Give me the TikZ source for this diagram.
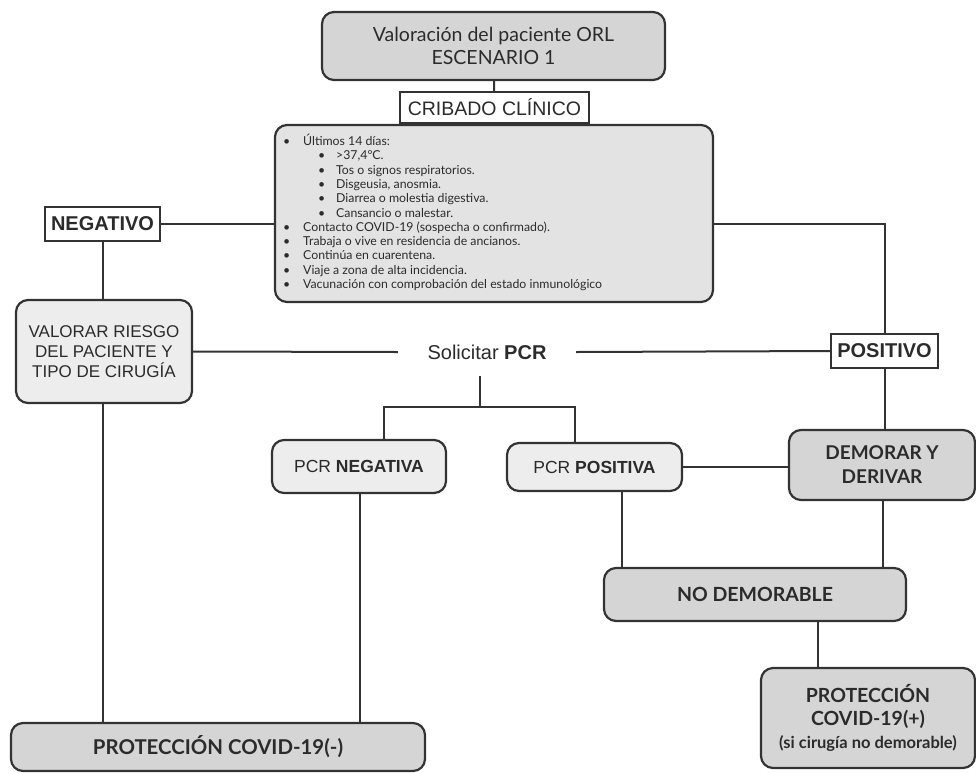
\documentclass[tikz,border=0pt]{standalone}
\usepackage{fontspec}
\setmainfont{Lato}
\newfontfamily\ari{Liberation Sans}
\definecolor{ink}{HTML}{2B2B2B}
\definecolor{edge}{HTML}{333333}
\definecolor{darkfill}{HTML}{D5D5D5}
\definecolor{midfill}{HTML}{E3E3E3}
\definecolor{lightfill}{HTML}{EDEDED}
\begin{document}
\begin{tikzpicture}[x=1pt,y=-1pt,
  box/.style={draw=edge,line width=2.2pt,rounded corners=12pt,align=center,text=ink,inner sep=0pt},
  sqbox/.style={draw=edge,line width=1.4pt,fill=white,align=center,text=ink,inner sep=0pt},
  conn/.style={draw=edge,line width=2pt}]
\useasboundingbox (0,0) rectangle (976,772);
% nodes
\node[box,fill=darkfill,minimum width=343pt,minimum height=68pt,font=\fontsize{19.5}{23}\selectfont] (top) at (493.5,46)
  {Valoración del paciente ORL\\ESCENARIO 1};
\node[sqbox,minimum width=189pt,minimum height=31pt,font=\ari\fontsize{19.5}{21}\selectfont] (crib) at (494.5,107.5)
  {CRIBADO CLÍNICO};
\node[box,fill=midfill,minimum width=438pt,minimum height=177pt] (big) at (494,213.5) {};
\node[anchor=north west,inner sep=0pt,align=left,text=ink,font=\fontsize{12.3}{14.3}\selectfont] (list) at (283,134)
  {\makebox[20pt][l]{\textbullet}Últimos 14 días:\\
   \hspace{35pt}\makebox[18pt][l]{\textbullet}>37,4ºC.\\
   \hspace{35pt}\makebox[18pt][l]{\textbullet}Tos o signos respiratorios.\\
   \hspace{35pt}\makebox[18pt][l]{\textbullet}Disgeusia, anosmia.\\
   \hspace{35pt}\makebox[18pt][l]{\textbullet}Diarrea o molestia digestiva.\\
   \hspace{35pt}\makebox[18pt][l]{\textbullet}Cansancio o malestar.\\
   \makebox[20pt][l]{\textbullet}Contacto COVID-19 (sospecha o confirmado).\\
   \makebox[20pt][l]{\textbullet}Trabaja o vive en residencia de ancianos.\\
   \makebox[20pt][l]{\textbullet}Continúa en cuarentena.\\
   \makebox[20pt][l]{\textbullet}Viaje a zona de alta incidencia.\\
   \makebox[20pt][l]{\textbullet}Vacunación con comprobación del estado inmunológico};
\node[sqbox,minimum width=115pt,minimum height=34pt,font=\ari\bfseries\fontsize{20}{22}\selectfont] (neg) at (102.5,224)
  {NEGATIVO};
\node[sqbox,minimum width=107pt,minimum height=34pt,font=\ari\bfseries\fontsize{20}{22}\selectfont] (pos) at (884.5,351)
  {POSITIVO};
\node[box,fill=lightfill,minimum width=176pt,minimum height=103pt,font=\ari\fontsize{17}{20}\selectfont] (val) at (104,351.5)
  {VALORAR RIESGO\\DEL PACIENTE Y\\TIPO DE CIRUGÍA};
\node[inner sep=0pt,minimum width=178pt,minimum height=48pt,text=ink,font=\ari\fontsize{20}{22}\selectfont] (sol) at (487,352)
  {Solicitar \textbf{PCR}};
\node[box,fill=lightfill,minimum width=174pt,minimum height=53pt,font=\ari\fontsize{17.5}{19}\selectfont] (pneg) at (359,466.5)
  {PCR \textbf{NEGATIVA}};
\node[box,fill=lightfill,minimum width=175pt,minimum height=48pt,font=\ari\fontsize{17.5}{19}\selectfont] (ppos) at (594.5,467)
  {PCR \textbf{POSITIVA}};
\node[box,fill=darkfill,minimum width=186pt,minimum height=70pt,font=\bfseries\fontsize{19}{24}\selectfont] (dem) at (882,465)
  {DEMORAR Y\\DERIVAR};
\node[box,fill=darkfill,minimum width=302pt,minimum height=53pt,font=\bfseries\fontsize{19.5}{22}\selectfont] (nodem) at (755,594.5)
  {NO DEMORABLE};
\node[box,fill=darkfill,minimum width=214pt,minimum height=100pt,font=\bfseries\fontsize{19.5}{23}\selectfont] (pplus) at (868,718)
  {PROTECCIÓN\\COVID-19(+)\\{\fontsize{16.5}{20}\selectfont (si cirugía no demorable)}};
\node[box,fill=darkfill,minimum width=414pt,minimum height=48pt,font=\bfseries\fontsize{20.4}{22}\selectfont] (pminus) at (218,747)
  {PROTECCIÓN COVID-19(-)};
% coordinates
\coordinate (j) at (480,407);
\coordinate (bl) at (384,407);
\coordinate (br) at (575,407);
\coordinate (xpp) at (622,0);
\coordinate (xdm) at (883,0);
\coordinate (xnd) at (818,0);
\coordinate (xvl) at (103,0);
\coordinate (xpn) at (360,0);
% connectors
\draw[conn] (top) -- (crib);
\draw[conn] (neg.east) -- (neg.east -| big.west);
\draw[conn] (neg.east -| big.east) -| (pos.north);
\draw[conn] (neg.south) -- (neg.south |- val.north);
\draw[conn] (val.east) -- (sol.west);
\draw[conn] (sol.east) -- (pos.west);
\draw[conn] (j |- sol.south) -- (j);
\draw[conn] (bl |- pneg.north) -- (bl) -- (br) -- (br |- ppos.north);
\draw[conn] (pos.south) -- (pos.south |- dem.north);
\draw[conn] (ppos.east) -- (ppos.east -| dem.west);
\draw[conn] (xpp |- ppos.south) -- (xpp |- nodem.north);
\draw[conn] (xdm |- dem.south) -- (xdm |- nodem.north);
\draw[conn] (xnd |- nodem.south) -- (xnd |- pplus.north);
\draw[conn] (xvl |- val.south) -- (xvl |- pminus.north);
\draw[conn] (xpn |- pneg.south) -- (xpn |- pminus.north);
\end{tikzpicture}
\end{document}
